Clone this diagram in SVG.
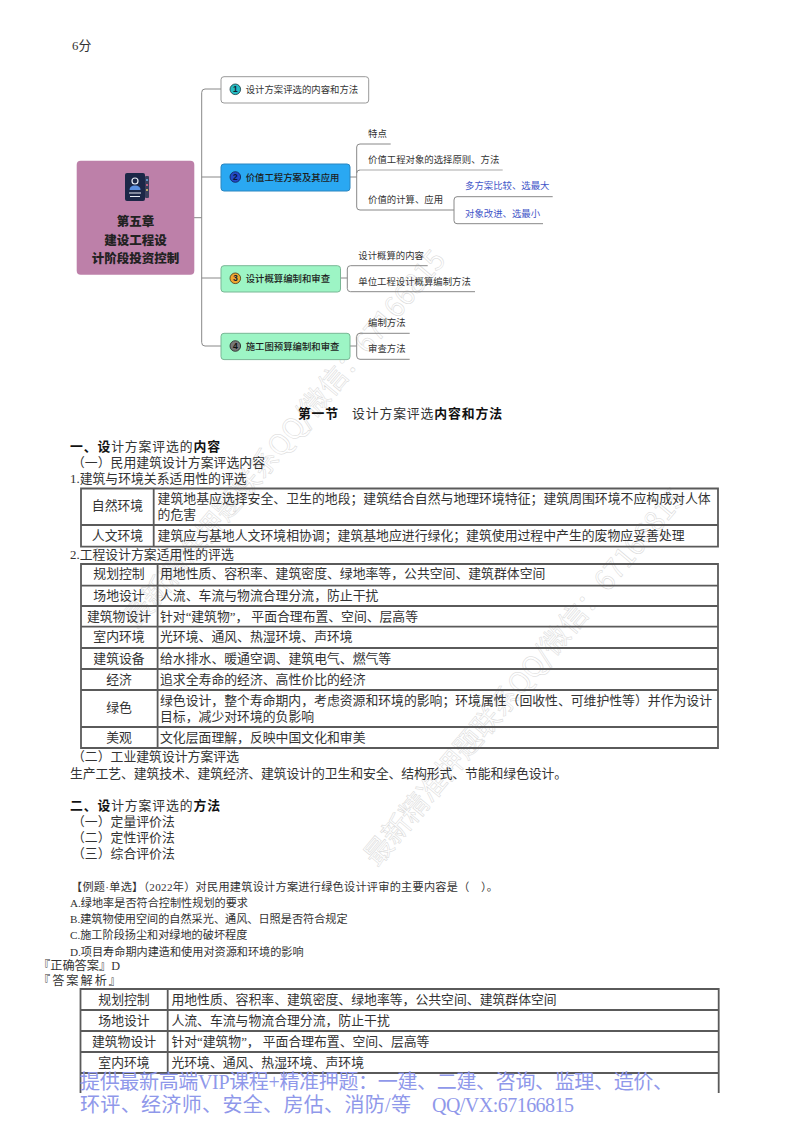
<svg xmlns="http://www.w3.org/2000/svg" width="800" height="1132" viewBox="0 0 800 1132">
<style>
text{dominant-baseline:central}
.s{font-family:"Liberation Serif","Noto Sans CJK SC",serif;font-size:12.85px;fill:#333}
.c{text-anchor:middle}
.b{font-weight:700;fill:#111}
.q{font-size:11.15px}
.a{font-size:12.2px}
.m{font-family:"Noto Sans CJK SC","Noto Sans",sans-serif;font-size:9.4px;fill:#333}
.mb{fill:#1d1d1d;font-weight:500}
.bl{fill:#3f55c8}
.root{font-family:"Noto Sans CJK SC",sans-serif;font-size:12.5px;font-weight:900;fill:#222;text-anchor:middle}
.num{font-family:"Liberation Sans",sans-serif;font-size:8.5px;font-weight:700;text-anchor:middle;fill:#123}
.wm{font-family:"Noto Sans CJK SC",sans-serif;font-size:28px;fill:none;stroke:#d8d8d8;stroke-width:.5}
.foot{font-family:"Liberation Serif","Noto Sans CJK SC",serif;font-size:20px;fill:#8f98ea}
.tb{fill:none;stroke:#5a5a5a;stroke-width:1.8}
.l{fill:none;stroke:#888;stroke-width:1}
.l2{fill:none;stroke:#aaa;stroke-width:1.2}
.n{stroke-width:1}
</style>
<g id="watermark">
<text class="wm" x="128" y="622" textLength="482" transform="rotate(-50 128 622)">最新精准押题联系QQ/微信：67166815</text>
<text class="wm" x="368" y="860" textLength="482" transform="rotate(-50 368 860)">最新精准押题联系QQ/微信：67166815</text>
</g>
<text class="s" x="72" y="46">6分</text>
<g id="connectors">
<path class="l" d="M194 217.7H201.7M221 89H205Q201.7 89 201.7 92.5V342.5Q201.7 346 205 346H221M201.7 177H221M201.7 278H221"/>
<path class="l" d="M350 177H356.7M390.7 144H360Q356.7 144 356.7 147V207Q356.7 210 360 210H453M356.7 173Q356.7 170 360 170"/>
<path class="l2" d="M360 170H502.7"/>
<path class="l" d="M453 210H454M552.7 196.7H457Q454 196.7 454 200V220.7Q454 223.7 457 223.7H543"/>
<path class="l" d="M340.5 278H347.3M427.7 265.7H350.5Q347.3 265.7 347.3 269V288.5Q347.3 291.7 350.5 291.7H475"/>
<path class="l" d="M350 346H356.7M409.7 333.3H360Q356.7 333.3 356.7 336.5V356Q356.7 359.3 360 359.3H409.7"/>
</g>
<g id="root">
<rect x="76.7" y="160.7" width="117.6" height="114" rx="4" fill="#bd80a9"/>
<g id="root-icon">
<rect x="125" y="173" width="20" height="28" rx="2" fill="#1c2747"/>
<rect x="145" y="176" width="4" height="22" rx="1" fill="#3a3f5c"/>
<circle cx="135" cy="181" r="3" fill="none" stroke="#e8ecf5" stroke-width="1.2"/>
<path d="M129.500 190Q129.500 185.500 135 185.500T140.500 190Z" fill="#5b8fe0"/>
<path d="M129 193H141M130 196.500H140" stroke="#e8ecf5" stroke-width="1.200"/>
<circle cx="147" cy="180" r="1" fill="#6fb0e8"/><circle cx="147" cy="185" r="1" fill="#e86f8f"/><circle cx="147" cy="190" r="1" fill="#e8d06f"/>
</g>
<text class="root" x="135.500" y="220.700">第五章</text>
<text class="root" x="135.500" y="239">建设工程设</text>
<text class="root" x="135.500" y="257">计阶段投资控制</text>
</g>
<g id="node1">
<rect class="n" x="221" y="76.700" width="147.700" height="26.300" rx="3" fill="#fff" stroke="#999"/>
<circle cx="235.300" cy="89.300" r="5.300" fill="#26bcc4" stroke="#16393f" stroke-width=".8"/><text class="num" x="235.300" y="89.300">1</text>
<text class="m" x="245.700" y="89.300">设计方案评选的内容和方法</text>
</g>
<g id="node2">
<rect class="n" x="221" y="164" width="129" height="27" rx="3" fill="#2aa8f2" stroke="#2b86c0"/>
<circle cx="235.300" cy="177" r="5.300" fill="#2349c8" stroke="#10204f" stroke-width=".8"/><text class="num" x="235.300" y="177" style="fill:#0b1436">2</text>
<text class="m mb" x="245.700" y="177">价值工程方案及其应用</text>
</g>
<g id="node2-leaves">
<text class="m" x="368" y="132.700">特点</text>
<text class="m" x="368" y="159">价值工程对象的选择原则、方法</text>
<text class="m" x="368" y="199.300">价值的计算、应用</text>
<text class="m bl" x="465" y="185.300">多方案比较、选最大</text>
<text class="m bl" x="465" y="212.700">对象改进、选最小</text>
</g>
<g id="node3">
<rect class="n" x="221" y="265.700" width="119.500" height="26.300" rx="3" fill="#9df5c5" stroke="#79b795"/>
<circle cx="235.300" cy="278.300" r="5.300" fill="#f0a830" stroke="#4a3410" stroke-width=".8"/><text class="num" x="235.300" y="278.300">3</text>
<text class="m mb" x="245.700" y="278.300">设计概算编制和审查</text>
</g>
<g id="node3-leaves">
<text class="m" x="358.300" y="254.700">设计概算的内容</text>
<text class="m" x="358.300" y="280.700">单位工程设计概算编制方法</text>
</g>
<g id="node4">
<rect class="n" x="221" y="333.300" width="129" height="26.300" rx="3" fill="#9df5c5" stroke="#79b795"/>
<circle cx="235.300" cy="346" r="5.300" fill="#777" stroke="#222" stroke-width=".8"/><text class="num" x="235.300" y="346" style="fill:#111">4</text>
<text class="m mb" x="245.700" y="346">施工图预算编制和审查</text>
</g>
<g id="node4-leaves">
<text class="m" x="368" y="322.300">编制方法</text>
<text class="m" x="368" y="348.300">审查方法</text>
</g>
<g id="headings">
<text class="s b" x="298" y="414" textLength="40">第一节</text>
<text class="s" x="352" y="414" textLength="150">设计方案评选<tspan class="b">内容和方法</tspan></text>
<text class="s" x="70" y="446.700" textLength="150"><tspan class="b">一、设</tspan>计方案评选的<tspan class="b">内容</tspan></text>
<text class="s" x="72" y="462.700" textLength="193">（一）民用建筑设计方案评选内容</text>
<text class="s" x="70" y="479">1.建筑与环境关系适用性的评选</text>
<text class="s" x="70" y="555">2.工程设计方案适用性的评选</text>
</g>
<g id="table1">
<path class="tb" d="M81 488.500H718V546.700H81ZM81 525H718M153.700 488.500V546.700"/>
<text class="s c" x="117.500" y="506">自然环境</text>
<text class="s" x="157.600" y="498.700" textLength="553">建筑地基应选择安全、卫生的地段；建筑结合自然与地理环境特征；建筑周围环境不应构成对人体</text>
<text class="s" x="157.600" y="514.700">的危害</text>
<text class="s c" x="117.500" y="535.700">人文环境</text>
<text class="s" x="157.600" y="535.700" textLength="527">建筑应与基地人文环境相协调；建筑基地应进行绿化；建筑使用过程中产生的废物应妥善处理</text>
</g>
<g id="table2">
<path class="tb" d="M81 564H718V748H81ZM81 585.700H718M81 606H718M81 626.700H718M81 648H718M81 669H718M81 690H718M81 727H718M157.600 564V748"/>
<text class="s c" x="119" y="574">规划控制</text><text class="s" x="160" y="574">用地性质、容积率、建筑密度、绿地率等，公共空间、建筑群体空间</text>
<text class="s c" x="119" y="595.700">场地设计</text><text class="s" x="160" y="595.700">人流、车流与物流合理分流，防止干扰</text>
<text class="s c" x="119" y="616.700">建筑物设计</text><text class="s" x="160" y="616.700" textLength="258">针对“建筑物”， 平面合理布置、空间、层高等</text>
<text class="s c" x="119" y="637.300">室内环境</text><text class="s" x="160" y="637.300">光环境、通风、热湿环境、声环境</text>
<text class="s c" x="119" y="659">建筑设备</text><text class="s" x="160" y="659">给水排水、暖通空调、建筑电气、燃气等</text>
<text class="s c" x="119" y="679.700">经济</text><text class="s" x="160" y="679.700">追求全寿命的经济、高性价比的经济</text>
<text class="s c" x="119" y="708">绿色</text><text class="s" x="160" y="700.700" textLength="552">绿色设计，整个寿命期内，考虑资源和环境的影响；环境属性（回收性、可维护性等）并作为设计</text><text class="s" x="160" y="716.700">目标，减少对环境的负影响</text>
<text class="s c" x="119" y="737.700">美观</text><text class="s" x="160" y="737.700">文化层面理解，反映中国文化和审美</text>
</g>
<g id="body">
<text class="s" x="72" y="757">（二）工业建筑设计方案评选</text>
<text class="s" x="70" y="773.700" textLength="497">生产工艺、建筑技术、建筑经济、建筑设计的卫生和安全、结构形式、节能和绿色设计。</text>
<text class="s" x="70" y="806" textLength="150"><tspan class="b">二、设</tspan>计方案评选的<tspan class="b">方法</tspan></text>
<text class="s" x="72" y="822">（一）定量评价法</text>
<text class="s" x="72" y="837.700">（二）定性评价法</text>
<text class="s" x="72" y="854.300">（三）综合评价法</text>
</g>
<g id="question">
<text class="s q" x="71" y="886.700" textLength="427">【例题·单选】（2022年）对民用建筑设计方案进行绿色设计评审的主要内容是（　）。</text>
<text class="s q" x="70" y="902.700">A.绿地率是否符合控制性规划的要求</text>
<text class="s q" x="70" y="919">B.建筑物使用空间的自然采光、通风、日照是否符合规定</text>
<text class="s q" x="70" y="935.300">C.施工阶段扬尘和对绿地的破坏程度</text>
<text class="s q" x="70" y="951.700">D.项目寿命期内建造和使用对资源和环境的影响</text>
<text class="s a" x="38" y="966" textLength="82">『正确答案』D</text>
<text class="s a" x="38" y="981" textLength="83">『答案解析』</text>
</g>
<g id="table3">
<path class="tb" d="M80.500 1093V989H718.700V1093M80.500 1010H718.700M80.500 1031H718.700M80.500 1052H718.700M80.500 1073H718.700M167.700 989V1073"/>
<text class="s c" x="124" y="1000">规划控制</text><text class="s" x="171.400" y="1000">用地性质、容积率、建筑密度、绿地率等，公共空间、建筑群体空间</text>
<text class="s c" x="124" y="1020.700">场地设计</text><text class="s" x="171.400" y="1020.700">人流、车流与物流合理分流，防止干扰</text>
<text class="s c" x="124" y="1041.700">建筑物设计</text><text class="s" x="171.400" y="1041.700" textLength="258">针对“建筑物”， 平面合理布置、空间、层高等</text>
<text class="s c" x="124" y="1062.700">室内环境</text><text class="s" x="171.400" y="1062.700">光环境、通风、热湿环境、声环境</text>
</g>
<g id="footer">
<text class="foot" x="80" y="1081.700" textLength="593">提供最新高端VIP课程+精准押题：一建、二建、咨询、监理、造价、</text>
<text class="foot" x="80" y="1105" textLength="331">环评、经济师、安全、房估、消防/等</text>
<text class="foot" x="432" y="1105" textLength="142">QQ/VX:67166815</text>
</g>
</svg>
